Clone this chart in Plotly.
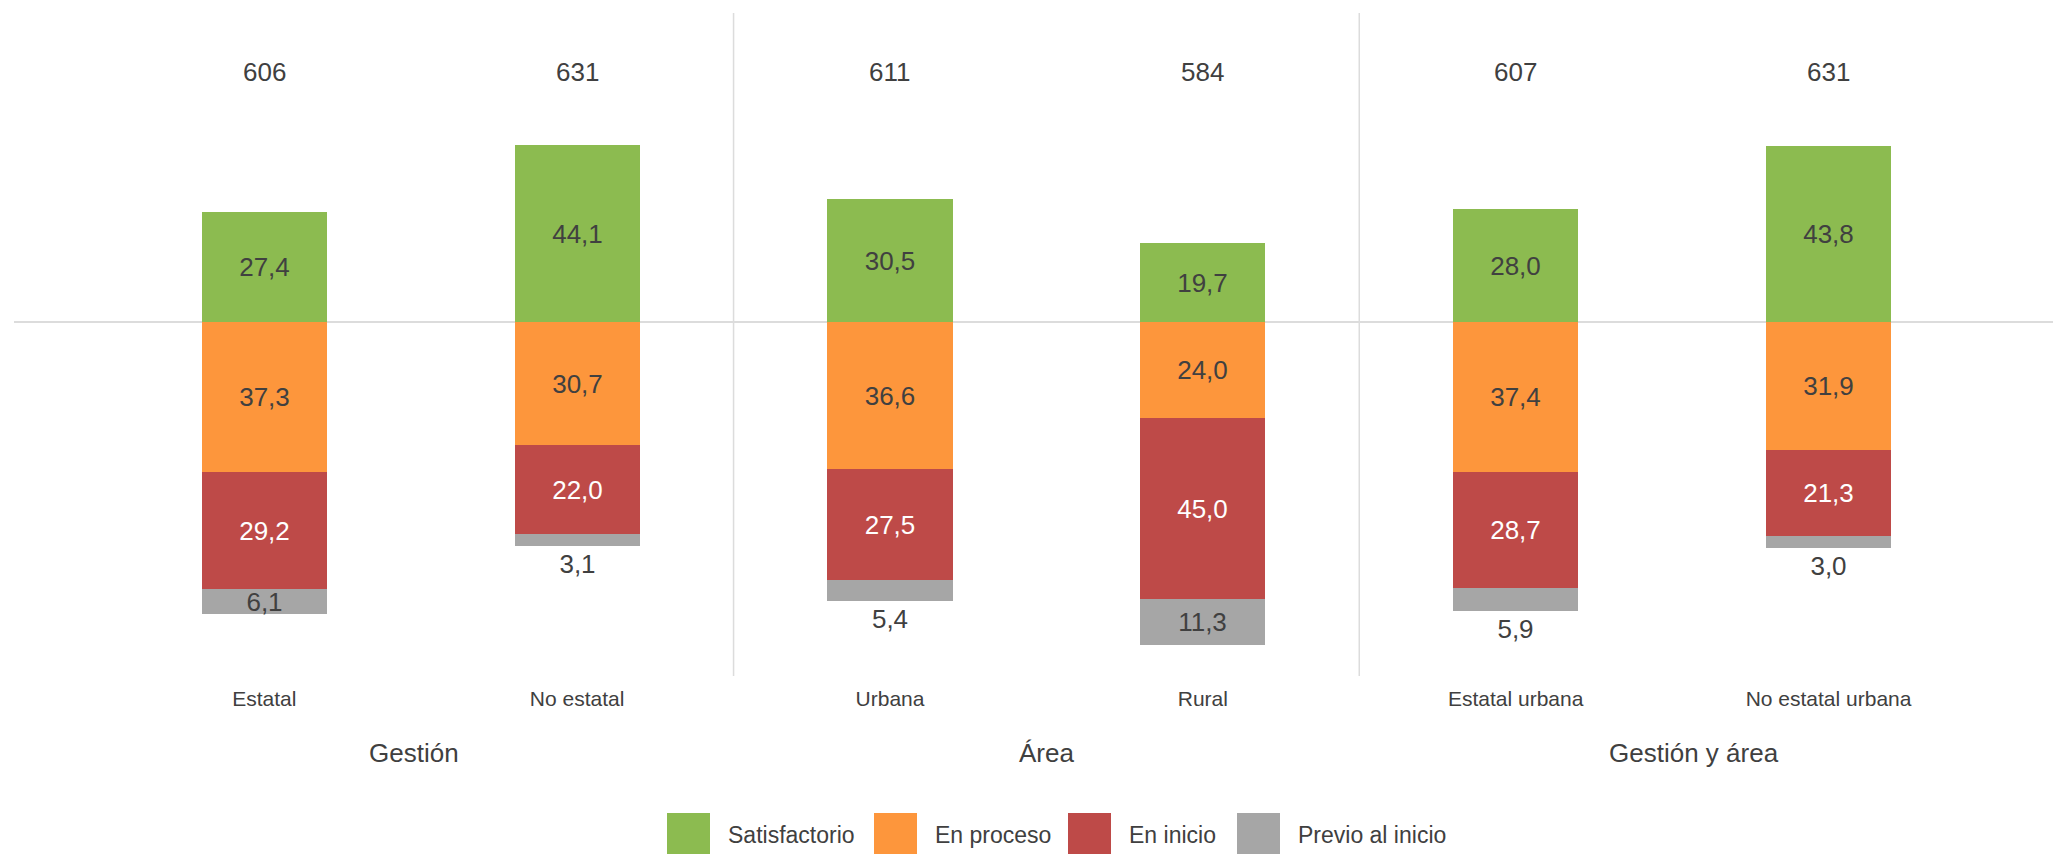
import plotly.graph_objects as go

# ---------------------------------------------------------------------------
#                                  DATA
# ---------------------------------------------------------------------------
categories = ["Estatal", "No estatal", "Urbana", "Rural", "Estatal urbana",
              "No estatal urbana"]
groups = ["Gestión", "Área", "Gestión y área"]
n_students = ["606", "631", "611", "584", "607", "631"]

satisfactorio = [27.4, 44.1, 30.5, 19.7, 28.0, 43.8]
en_proceso = [37.3, 30.7, 36.6, 24.0, 37.4, 31.9]
en_inicio = [29.2, 22.0, 27.5, 45.0, 28.7, 21.3]
previo = [6.1, 3.1, 5.4, 11.3, 5.9, 3.0]

levels = ["Satisfactorio", "En proceso", "En inicio", "Previo al inicio"]
colors = ["#8CBB50", "#FD963C", "#BE4A48", "#A6A6A6"]

# ---------------------------------------------------------------------------
#                               LAYOUT
# ---------------------------------------------------------------------------
# the page body adds an 8px margin, so the figure is shrunk by that much
OFF = 8
W, H = 2061 - OFF, 854 - OFF
plot_l, plot_t, plot_b = 14, 13, 676      # page pixels
zero_px = 322
px_unit = 4.02

ml, mt, mb = plot_l - OFF, plot_t - OFF, H - (plot_b - OFF)
y_top = (zero_px - plot_t) / px_unit
y_bot = -(plot_b - zero_px) / px_unit
plot_h = plot_b - plot_t
plot_w = 2061 - plot_l

txt_col = "#404040"
font_fam = "Liberation Sans, Arial, sans-serif"


def fmt(v):
    return f"{v:.1f}".replace(".", ",")


def px_x(p):
    return (p - plot_l) / plot_w


def px_y(p):
    return (plot_b - p) / plot_h


fig = go.Figure()

series = [satisfactorio, en_proceso, en_inicio, previo]
for k, (name, vals, col) in enumerate(zip(levels, series, colors)):
    sign = 1 if k == 0 else -1
    if k == 3:
        pos = ["inside" if v > 6 else "outside" for v in vals]
    else:
        pos = "inside"
    fig.add_trace(go.Bar(
        x=categories, y=[sign * v for v in vals], name=name,
        marker=dict(color=col, line=dict(width=0)), width=0.4,
        text=[fmt(v) for v in vals], textposition=pos,
        insidetextanchor="middle", textangle=0, constraintext="none",
        insidetextfont=dict(size=26, color="white" if k == 2 else txt_col),
        outsidetextfont=dict(size=26, color=txt_col),
        showlegend=False, cliponaxis=False,
    ))

# sample sizes above bars
for c, n in zip(categories, n_students):
    fig.add_annotation(x=c, y=62.2, text=n, showarrow=False,
                       font=dict(size=26, color=txt_col), yanchor="middle")

# group titles
for g, gx in zip(groups, [0.48, 2.5, 4.57]):
    fig.add_annotation(x=gx, y=px_y(753), xref="x", yref="paper", text=g,
                       showarrow=False, font=dict(size=26, color=txt_col),
                       yanchor="middle")

# separators between groups
shapes = []
for sx in [1.5, 3.5]:
    shapes.append(dict(type="line", xref="x", yref="paper", x0=sx, x1=sx,
                       y0=0, y1=1, line=dict(color="#DCDCDC", width=1.5),
                       layer="below"))

# manual legend with large squares
sq_left = [667, 874, 1068, 1237]
for lx, name, col in zip(sq_left, levels, colors):
    shapes.append(dict(type="rect", xref="paper", yref="paper",
                       x0=px_x(lx), x1=px_x(lx + 43), y0=px_y(813),
                       y1=px_y(870), fillcolor=col, line=dict(width=0)))
    fig.add_annotation(x=px_x(lx + 59), y=px_y(835), xref="paper",
                       yref="paper", text=name, showarrow=False,
                       xanchor="left", yanchor="middle",
                       font=dict(size=23, color=txt_col))

fig.update_layout(
    width=W, height=H, barmode="relative", bargap=0,
    margin=dict(l=ml, r=0, t=mt, b=mb, pad=0),
    plot_bgcolor="white", paper_bgcolor="white",
    font=dict(family=font_fam, color=txt_col),
    shapes=shapes,
    xaxis=dict(range=[-0.8, 5.743], showgrid=False, zeroline=False,
               showline=False, ticks="", tickfont=dict(size=21, color=txt_col),
               ticklabelstandoff=8, fixedrange=True),
    yaxis=dict(range=[y_bot, y_top], showgrid=False, zeroline=True,
               zerolinecolor="#DCDCDC", zerolinewidth=1.5,
               showticklabels=False, fixedrange=True),
)

fig.write_html("out.html")
